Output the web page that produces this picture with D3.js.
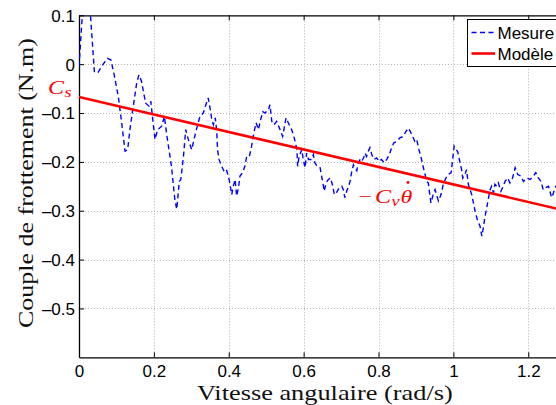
<!DOCTYPE html>
<html><head><meta charset="utf-8">
<script src="https://cdn.jsdelivr.net/npm/d3@7"></script>
<style>body{margin:0;background:#fff}svg{display:block}</style>
</head><body>
<svg id="c" width="556" height="405"></svg>
<script>
// ---- data ----
const measureX = [0.000,0.008,0.018,0.026,0.031,0.041,0.050,0.060,0.076,0.085,0.094,0.105,0.114,0.123,0.130,0.136,0.145,0.154,0.160,0.167,0.178,0.187,0.192,0.196,0.203,0.210,0.221,0.228,0.235,0.247,0.256,0.261,0.268,0.272,0.279,0.285,0.292,0.301,0.312,0.323,0.332,0.339,0.345,0.350,0.354,0.359,0.364,0.368,0.370,0.374,0.381,0.388,0.394,0.401,0.408,0.412,0.417,0.421,0.426,0.430,0.437,0.443,0.448,0.455,0.461,0.467,0.473,0.479,0.485,0.491,0.497,0.506,0.510,0.515,0.521,0.528,0.537,0.544,0.548,0.553,0.559,0.568,0.575,0.582,0.584,0.588,0.595,0.599,0.604,0.608,0.613,0.621,0.626,0.630,0.636,0.644,0.648,0.653,0.655,0.660,0.666,0.672,0.678,0.682,0.688,0.695,0.702,0.706,0.710,0.715,0.720,0.724,0.728,0.733,0.737,0.742,0.746,0.751,0.755,0.760,0.764,0.768,0.773,0.777,0.782,0.788,0.795,0.802,0.808,0.815,0.822,0.829,0.835,0.841,0.849,0.857,0.866,0.873,0.880,0.885,0.891,0.897,0.902,0.908,0.915,0.922,0.929,0.933,0.937,0.940,0.946,0.951,0.955,0.960,0.967,0.973,0.980,0.986,0.994,0.997,1.002,1.006,1.011,1.018,1.022,1.025,1.031,1.035,1.040,1.049,1.058,1.065,1.071,1.076,1.080,1.084,1.089,1.093,1.098,1.102,1.107,1.111,1.116,1.120,1.127,1.133,1.138,1.145,1.151,1.158,1.165,1.172,1.181,1.187,1.196,1.205,1.214,1.220,1.227,1.234,1.240,1.246,1.254,1.258,1.262,1.266,1.271,1.276];
const measureY = [-0.005,0.090,0.150,0.130,0.097,-0.015,-0.018,-0.005,0.012,0.009,-0.022,-0.066,-0.120,-0.178,-0.175,-0.134,-0.086,-0.039,-0.022,-0.035,-0.080,-0.086,-0.076,-0.107,-0.154,-0.134,-0.127,-0.107,-0.148,-0.209,-0.277,-0.297,-0.240,-0.236,-0.189,-0.134,-0.154,-0.175,-0.138,-0.107,-0.100,-0.083,-0.069,-0.090,-0.110,-0.124,-0.110,-0.138,-0.175,-0.195,-0.209,-0.220,-0.216,-0.236,-0.267,-0.250,-0.236,-0.270,-0.253,-0.229,-0.222,-0.209,-0.189,-0.189,-0.168,-0.141,-0.120,-0.134,-0.114,-0.097,-0.100,-0.093,-0.083,-0.117,-0.124,-0.117,-0.134,-0.148,-0.131,-0.110,-0.120,-0.134,-0.151,-0.175,-0.209,-0.189,-0.175,-0.195,-0.212,-0.182,-0.195,-0.195,-0.185,-0.202,-0.209,-0.212,-0.229,-0.250,-0.260,-0.243,-0.236,-0.233,-0.250,-0.267,-0.263,-0.253,-0.250,-0.257,-0.273,-0.260,-0.250,-0.240,-0.222,-0.206,-0.212,-0.218,-0.202,-0.195,-0.199,-0.192,-0.182,-0.189,-0.178,-0.171,-0.185,-0.195,-0.192,-0.199,-0.195,-0.202,-0.195,-0.185,-0.171,-0.161,-0.158,-0.151,-0.148,-0.138,-0.131,-0.138,-0.148,-0.158,-0.154,-0.175,-0.195,-0.219,-0.240,-0.243,-0.267,-0.284,-0.267,-0.257,-0.267,-0.280,-0.267,-0.246,-0.233,-0.226,-0.222,-0.202,-0.168,-0.175,-0.178,-0.202,-0.216,-0.233,-0.226,-0.216,-0.246,-0.267,-0.301,-0.321,-0.331,-0.352,-0.335,-0.314,-0.294,-0.277,-0.257,-0.250,-0.263,-0.246,-0.250,-0.243,-0.260,-0.250,-0.240,-0.233,-0.243,-0.233,-0.212,-0.226,-0.229,-0.240,-0.233,-0.236,-0.229,-0.222,-0.233,-0.240,-0.257,-0.253,-0.250,-0.260,-0.273,-0.267,-0.253,-0.248];
const modelX = [0, 1.3];
const modelY = [-0.067, -0.300];
const xTicks = [0, 0.2, 0.4, 0.6, 0.8, 1, 1.2];
const yTicks = [0.1, 0, -0.1, -0.2, -0.3, -0.4, -0.5];
const seriesNames = ["Mesure", "Modèle"];
const xLabel = "Vitesse angulaire (rad/s)";
const yLabel = "Couple de frottement (N.m)";

// ---- layout ----
const L = 79, R = 565.7, T = 15.3, B = 357.3;
const svg = d3.select("#c");
const x = d3.scaleLinear().domain([0, 1.3]).range([L, R]);
const y = d3.scaleLinear().domain([-0.6, 0.1]).range([B, T]);
const fmt = v => (v < 0 ? "\u2013" : "") + String(Math.abs(v));

svg.append("defs").append("clipPath").attr("id","clip")
  .append("rect").attr("x",L).attr("y",T).attr("width",R-L).attr("height",B-T);

// grid
const grid = svg.append("g").attr("stroke","#b4b4b4").attr("stroke-width",1).attr("stroke-dasharray","1,2");
grid.selectAll(".gx").data(xTicks.filter(v=>v>0)).enter().append("line")
  .attr("x1",d=>Math.round(x(d))+0.5).attr("x2",d=>Math.round(x(d))+0.5).attr("y1",T).attr("y2",B);
grid.selectAll(".gy").data(yTicks.filter(v=>v<0.1)).enter().append("line")
  .attr("y1",d=>Math.round(y(d))+0.5).attr("y2",d=>Math.round(y(d))+0.5).attr("x1",L).attr("x2",R);

// axes (MATLAB style: inward ticks, box)
const fontSans = "'Liberation Sans', Arial, Helvetica, sans-serif";
const xAxis = d3.axisBottom(x).tickValues(xTicks).tickFormat(fmt).tickSizeInner(-5).tickSizeOuter(0).tickPadding(7.5);
const gx = svg.append("g").attr("transform",`translate(0,${B})`).call(xAxis);
const yAxis = d3.axisLeft(y).tickValues(yTicks).tickFormat(fmt).tickSizeInner(-5).tickSizeOuter(0).tickPadding(4);
const gy = svg.append("g").attr("transform",`translate(${L},0)`).call(yAxis);
const xTop = d3.axisTop(x).tickValues(xTicks).tickFormat("").tickSizeInner(-5).tickSizeOuter(0);
const gt = svg.append("g").attr("transform",`translate(0,${T})`).call(xTop);
[gx,gy,gt].forEach(g=>{
  g.selectAll("text").attr("font-family",fontSans).attr("font-size",17).attr("fill","#000");
  g.selectAll("line").attr("stroke","#000");
  g.select(".domain").attr("stroke","#000").attr("stroke-width",1.3);
});
gy.selectAll("text").attr("dy","0.35em");
gx.selectAll("text").attr("dy","0.71em");

// data
const line = d3.line().x(d=>x(d[0])).y(d=>y(d[1]));
const plot = svg.append("g").attr("clip-path","url(#clip)");
plot.append("path").datum(d3.zip(measureX, measureY)).attr("d",line)
  .attr("fill","none").attr("stroke","#0000ff").attr("stroke-width",1.4).attr("stroke-dasharray","5,3.5");
plot.append("path").datum(d3.zip(modelX, modelY)).attr("d",line)
  .attr("fill","none").attr("stroke","#ff0000").attr("stroke-width",2.6);

// axis labels (serif, widened to match Computer Modern proportions)
const serif = "'Liberation Serif', 'Times New Roman', serif";
function stretchLabel(cx, cy, rot, txt, fs, target){
  const g = svg.append("g");
  const t = g.append("text").attr("text-anchor","middle").attr("font-family",serif)
    .attr("font-size",fs).attr("fill","#111").text(txt);
  const w = t.node().getComputedTextLength();
  g.attr("transform",`translate(${cx},${cy}) rotate(${rot}) scale(${target/w},1)`);
}
stretchLabel(324.8, 399.5, 0, xLabel, 20.5, 256);
stretchLabel(33, 183, -90, yLabel, 22, 290);

// annotations
const red = "#ff0000";
function glyph(px, py, s, fs, italic){
  svg.append("text").attr("transform",`translate(${px},${py}) scale(1.3,1)`)
    .attr("font-family",serif).attr("font-style",italic?"italic":"normal")
    .attr("font-size",fs).attr("fill",red).text(s);
}
glyph(48, 93.5, "C", 18.5, true);
glyph(64.5, 97, "s", 14, true);
glyph(358.5, 202.7, "\u2212", 18.5, false);
glyph(375, 202.7, "C", 18.5, true);
glyph(391.5, 206, "v", 14, true);
glyph(400.5, 202.7, "\u03b8", 18.5, true);
svg.append("circle").attr("cx",408).attr("cy",182.5).attr("r",1.4).attr("fill",red);

// legend
const lg = svg.append("g");
lg.append("rect").attr("x",467.5).attr("y",19.5).attr("width",93).attr("height",47)
  .attr("fill","#fff").attr("stroke","#000").attr("stroke-width",1);
const items = [{c:"#0000ff",d:"5,3.5",w:1.4,yy:32.5},{c:"#ff0000",d:null,w:2.6,yy:53.5}];
items.forEach((it2,i)=>{
  lg.append("line").attr("x1",471.5).attr("x2",495).attr("y1",it2.yy).attr("y2",it2.yy)
    .attr("stroke",it2.c).attr("stroke-width",it2.w).attr("stroke-dasharray",it2.d);
  lg.append("text").attr("x",497.5).attr("y",it2.yy).attr("dy","0.36em").attr("font-family",fontSans)
    .attr("font-size",17).attr("fill","#000").text(seriesNames[i]);
});
</script>
</body></html>
